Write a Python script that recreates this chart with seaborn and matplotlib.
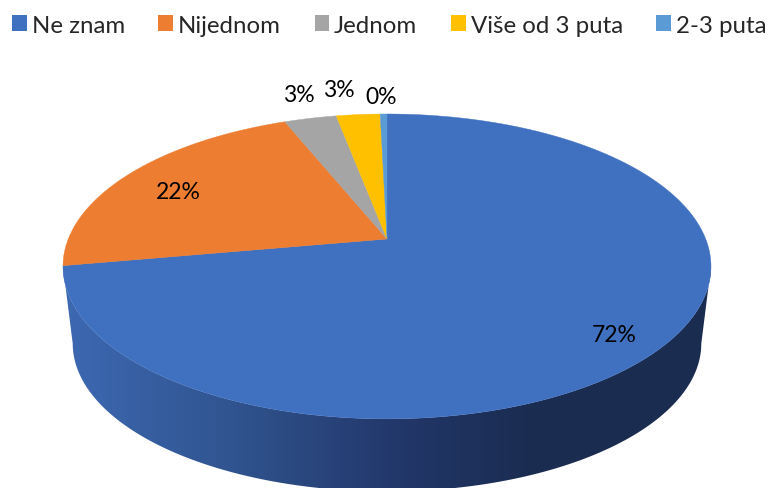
import numpy as np
import matplotlib
matplotlib.use("Agg")
import matplotlib.pyplot as plt
from matplotlib.colors import LinearSegmentedColormap
from matplotlib.patches import Patch, Polygon
import seaborn as sns

categories = ["Ne znam", "Nijednom", "Jednom", "Više od 3 puta", "2-3 puta"]
shares = [72.2, 21.7, 3.1, 2.6, 0.4]
colors = ["#4070C0", "#ED7D31", "#A5A5A5", "#FFC000", "#5B9BD5"]

# pixel layout of the tilted disc
CX, CY = 387, 240
RX, RY = 318.7, 147.5
TILT = 0.18
# lower rim of the wall is a smaller copy of the top rim, pushed down
WALL_SCALE = 0.97
WALL_DROP = 78

# label placement: radius on the disc, then a nudge in pixels
label_radius = [0.80, 0.68, 1.0, 1.0, 1.0]
label_nudge = [(12, 12), (-30, -2), (-12, -24), (-19, -25), (-2, -18)]

# wall shading from left rim to right rim
wall_stops = [0.0, 0.35, 0.70, 0.98, 1.0]
wall_colors = ["#3D69B3", "#30548F", "#22376A", "#1A2C50", "#1A2C50"]


def disc_point(angle, r=1.0):
    # angle runs clockwise from the top of the disc
    u = r * np.sin(angle)
    v = r * np.cos(angle)
    den = 1 + TILT * v
    return CX + RX * u / den, CY - RY * v / den


sns.set_theme(style="white")
plt.rcParams["font.family"] = ["Lato", "DejaVu Sans"]

fig = plt.figure(figsize=(7.73, 4.89), dpi=100)
ax = fig.add_axes([0, 0, 1, 1])
ax.axis("off")

# side wall: gradient image clipped to the band under the lower rim
rim = np.linspace(np.radians(100.4), np.radians(259.6), 300)
top_x, top_y = disc_point(rim)
low_x = CX + (top_x - CX) * WALL_SCALE
low_y = CY + (top_y - CY) * WALL_SCALE + WALL_DROP
band = np.c_[np.r_[top_x, low_x[::-1]], np.r_[top_y, low_y[::-1]]]

wall_cmap = LinearSegmentedColormap.from_list("wall", list(zip(wall_stops, wall_colors)))
img = ax.imshow(np.linspace(0, 1, 400).reshape(1, -1), cmap=wall_cmap, aspect="auto",
                extent=(63, 545, 489, 0), vmin=0, vmax=1, zorder=1)
dark = ax.fill_between([545, 773], 0, 489, color=wall_colors[-1], lw=0, zorder=1)
clip = Polygon(band, closed=True, transform=ax.transData, fc="none", ec="none")
ax.add_patch(clip)
img.set_clip_path(clip)
dark.set_clip_path(clip)

# top face
edges = np.radians(np.cumsum([0] + shares) * 3.6)
for i, share in enumerate(shares):
    arc = np.linspace(edges[i], edges[i + 1], 200)
    xs, ys = disc_point(arc)
    ax.fill(np.r_[CX, xs], np.r_[CY, ys], color=colors[i], lw=0.3, zorder=2)

    mid = (edges[i] + edges[i + 1]) / 2
    lx, ly = disc_point(mid, label_radius[i])
    ax.text(lx + label_nudge[i][0], ly + label_nudge[i][1], f"{share:.0f}%",
            fontsize=16.5, color="black", ha="center", va="center", zorder=3)

ax.set_xlim(0, 773)
ax.set_ylim(489, 0)

handles = [Patch(facecolor=c, edgecolor="none") for c in colors]
ax.legend(handles, categories, loc="upper left", bbox_to_anchor=(0.006, 0.983), ncol=5,
          frameon=False, fontsize=17.3, handlelength=0.62, handleheight=0.62,
          handletextpad=0.2, columnspacing=1.4, labelcolor="#262626",
          borderaxespad=0, borderpad=0.3)

fig.savefig("out.png", dpi=100)
